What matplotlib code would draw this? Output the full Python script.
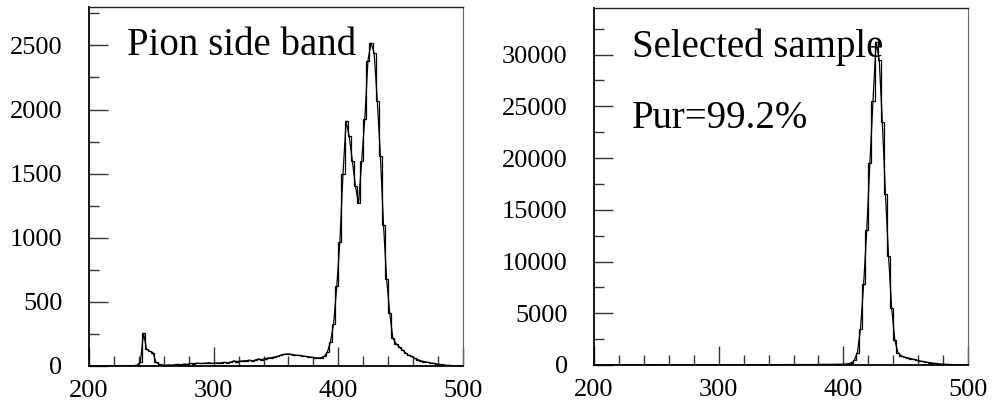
#!/usr/bin/env python3
"""Pion side band vs selected sample mass spectra (PAW-style histograms)."""

import numpy as np
import matplotlib
matplotlib.use('Agg')
import matplotlib.pyplot as plt
from matplotlib.ticker import MultipleLocator

plt.rcParams['font.family'] = ['Liberation Serif', 'DejaVu Serif']

# 120 bins of 2.5 from 200 to 500
BIN_LO, BIN_HI, NBINS = 200, 500, 120

# Pion side band counts per bin
sideband = [
    0, 0, 0, 0, 0, 0, 0, 0, 0, 0,
    0, 0, 2, 3, 3, 8, 30, 255, 130, 115,
    105, 30, 12, 8, 5, 8, 6, 10, 12, 10,
    15, 12, 20, 18, 22, 20, 20, 22, 25, 20,
    25, 22, 25, 28, 25, 30, 40, 35, 38, 40,
    42, 45, 40, 48, 55, 50, 58, 62, 65, 70,
    75, 85, 90, 95, 92, 88, 85, 82, 78, 75,
    72, 68, 65, 62, 66, 75, 110, 190, 330, 620,
    970, 1500, 1910, 1790, 1600, 1400, 1270, 1600, 1930, 2380,
    2520, 2440, 2070, 1640, 1100, 680, 410, 215, 175, 150,
    125, 105, 85, 75, 60, 50, 40, 35, 30, 25,
    20, 15, 12, 10, 6, 5, 3, 2, 1, 0,
]

# Selected sample counts per bin
selected = [
    0, 0, 0, 0, 0, 0, 0, 0, 0, 0,
    0, 0, 5, 5, 10, 10, 20, 40, 25, 20,
    15, 10, 10, 10, 10, 10, 10, 10, 15, 15,
    15, 15, 20, 20, 20, 20, 20, 20, 25, 25,
    25, 25, 25, 25, 30, 30, 30, 30, 30, 30,
    30, 30, 35, 35, 35, 35, 35, 35, 40, 40,
    40, 40, 45, 45, 45, 45, 45, 45, 45, 45,
    45, 45, 50, 50, 50, 55, 55, 60, 65, 70,
    80, 120, 200, 450, 1200, 3500, 7800, 13000, 19500, 25500,
    31200, 29500, 23500, 16500, 10500, 5500, 2400, 1200, 900, 780,
    700, 620, 550, 480, 400, 340, 290, 240, 190, 150,
    110, 90, 70, 50, 40, 30, 20, 15, 10, 5,
]

LABEL_LEFT = 'Pion side band'
LABEL_RIGHT = 'Selected sample'
PURITY = 'Pur=99.2%'


def draw_hist(ax, counts, ymax, major, minor):
    edges = np.linspace(BIN_LO, BIN_HI, NBINS + 1)
    centers = 0.5 * (edges[:-1] + edges[1:])
    counts = np.asarray(counts, dtype=float)

    ax.stairs(counts, edges, color='black', linewidth=0.9)
    ax.plot(centers, counts, color='black', linewidth=0.9)

    ax.set_xlim(BIN_LO, BIN_HI)
    ax.set_ylim(0, ymax)
    ax.xaxis.set_major_locator(MultipleLocator(100))
    ax.xaxis.set_minor_locator(MultipleLocator(20))
    ax.yaxis.set_major_locator(MultipleLocator(major))
    ax.yaxis.set_minor_locator(MultipleLocator(minor))

    ax.tick_params(which='both', direction='in', top=False, right=False,
                   labelsize=19, width=1.0, color='#333333')
    ax.tick_params(which='major', length=14)
    ax.tick_params(which='minor', length=7)
    ax.tick_params(axis='y', which='major', pad=19)
    ax.tick_params(axis='x', which='major', pad=10)

    # left/bottom drawn heavier, right edge thin and grey like the original
    ax.spines['left'].set_linewidth(1.3)
    ax.spines['bottom'].set_linewidth(1.3)
    ax.spines['top'].set_linewidth(1.0)
    ax.spines['top'].set_color('#222222')
    ax.spines['right'].set_linewidth(0.8)
    ax.spines['right'].set_color('#666666')


def main():
    fig = plt.figure(figsize=(9.94, 4.01), dpi=100)
    ax1 = fig.add_axes([0.0895, 0.0873, 0.3763, 0.8953])
    ax2 = fig.add_axes([0.5976, 0.0898, 0.3763, 0.8903])

    draw_hist(ax1, sideband, 2800, 500, 250)
    draw_hist(ax2, selected, 34500, 5000, 2500)

    ax1.text(0.102, 0.866, LABEL_LEFT, transform=ax1.transAxes,
             fontsize=28, va='baseline', ha='left')
    ax2.text(0.102, 0.863, LABEL_RIGHT, transform=ax2.transAxes,
             fontsize=28, va='baseline', ha='left')
    ax2.text(0.102, 0.664, PURITY, transform=ax2.transAxes,
             fontsize=28, va='baseline', ha='left')

    fig.savefig('out.png', dpi=100)


if __name__ == '__main__':
    main()
